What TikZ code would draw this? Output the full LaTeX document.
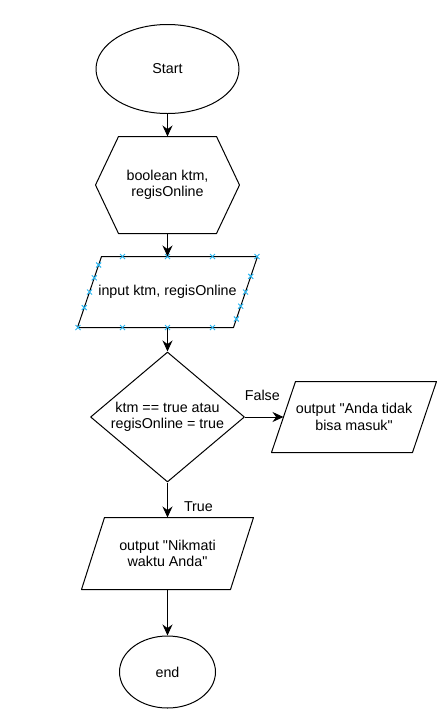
\documentclass[tikz,border=0pt]{standalone}
\usepackage{fontspec}
\setmainfont{Liberation Sans}
\usetikzlibrary{shapes.geometric,arrows.meta,calc}
\definecolor{selblue}{RGB}{41,182,242}
\begin{document}
\begin{tikzpicture}[x=1pt,y=-1pt,>={Stealth[length=11pt,width=10pt]}, font=\fontsize{14.3}{16.5}\selectfont, line join=round, line width=1pt,
	term/.style={ellipse,draw,inner sep=0pt},
	box/.style={inner sep=0pt,align=center},
	cond/.style={diamond,draw,inner sep=0pt,aspect=1.18,align=center,minimum width=154pt,minimum height=130pt},
	lbl/.style={inner sep=0pt},
	handle/.style={selblue,line width=1pt}]
	\useasboundingbox (0,0) rectangle (446,721);
	% shapes
	\node[term,minimum width=143pt,minimum height=89pt] (start) at (167.5,69) {Start};
	\node[box,minimum width=143pt,minimum height=96pt] (decl) at (167.5,185) {boolean ktm,\\regisOnline};
	\node[box,minimum width=155pt,minimum height=70pt] (in) at (167.5,292) {input ktm, regisOnline};
	\node[cond] (ask) at (167.5,417) {ktm == true atau\\regisOnline = true};
	\node[box,minimum width=140pt,minimum height=70pt] (no) at (354,417) {output \textquotedbl Anda tidak\\bisa masuk\textquotedbl};
	\node[box,minimum width=148pt,minimum height=71pt] (yes) at (167.5,553.5) {output \textquotedbl Nikmati\\waktu Anda\textquotedbl};
	\node[term,minimum width=96pt,minimum height=72pt] (stop) at (167.5,672) {end};
	\draw (decl.west)--($(decl.north west)+(23,0)$)--($(decl.north east)+(-23,0)$)--(decl.east)
		--($(decl.south east)+(-23,0)$)--($(decl.south west)+(23,0)$)--cycle;
	\foreach \n/\s in {in/12,no/12,yes/11.5}
	\draw ($(\n.north west)+(\s,0)$)--($(\n.north east)+(\s,0)$)--($(\n.south east)-(\s,0)$)--($(\n.south west)-(\s,0)$)--cycle;
	% selection handles
	\path
	($(in.north west)+(12,0)$) coordinate (inTL)
	($(in.north east)+(12,0)$) coordinate (inTR)
	($(in.south east)-(12,0)$) coordinate (inBR)
	($(in.south west)-(12,0)$) coordinate (inBL);
	\foreach \d in {-45,0,45,89.5}
	\draw[handle] ($(in.north)+(\d,0)$) +(-2.5,-2.5)--+(2.5,2.5) +(-2.5,2.5)--+(2.5,-2.5);
	\foreach \d in {-89.5,-45,0,45}
	\draw[handle] ($(in.south)+(\d,0)$) +(-2.5,-2.5)--+(2.5,2.5) +(-2.5,2.5)--+(2.5,-2.5);
	\foreach \t in {0.12,0.3,0.5,0.72}
	\draw[handle] ($(inTL)!\t!(inBL)$) +(-2.5,-2.5)--+(2.5,2.5) +(-2.5,2.5)--+(2.5,-2.5);
	\foreach \t in {0.28,0.5,0.7,0.88}
	\draw[handle] ($(inTR)!\t!(inBR)$) +(-2.5,-2.5)--+(2.5,2.5) +(-2.5,2.5)--+(2.5,-2.5);
	% connectors
	\draw[->] (start)--(decl);
	\draw[->] (decl)--(in);
	\draw[->] (in)--(ask);
	\draw[->] (ask)--(no) node[lbl,pos=0.45,above=16pt]{False};
	\draw[->] (ask)--(yes) node[lbl,pos=0.7,right=16pt]{True};
	\draw[->] (yes)--(stop);
\end{tikzpicture}
\end{document}
